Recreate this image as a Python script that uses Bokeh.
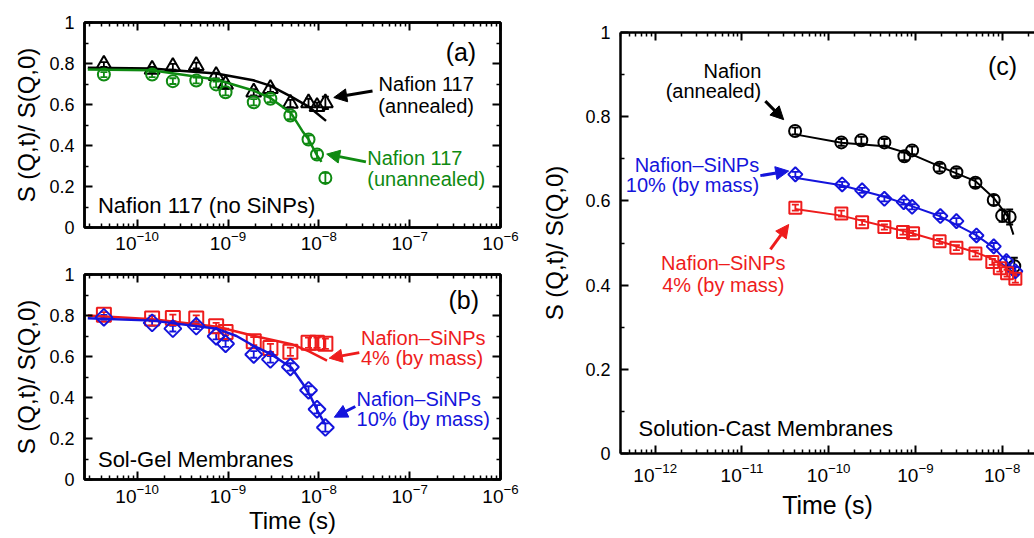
from bokeh.plotting import figure
from bokeh.layouts import row, column
from bokeh.models import (LogAxis, LinearAxis, Range1d, FixedTicker, Whisker, ColumnDataSource,
                          Label, Arrow, NormalHead, TeeHead, CustomJSTickFormatter, LogTickFormatter)
from bokeh.embed import file_html
from bokeh.resources import INLINE

FONT = "Liberation Sans"
BLACK = "#000000"
GREEN = "#0f8a12"
RED = "#ee1c1c"
BLUE = "#1414dc"

# ---------------- data: panel (a) and (b) share Fourier times ----------------
t_ab = [4.3e-11, 1.46e-10, 2.47e-10, 4.47e-10, 7.4e-10, 9.4e-10,
        1.92e-9, 2.93e-9, 4.86e-9, 7.7e-9, 9.55e-9, 1.18e-8]

a_annealed = [0.795, 0.771, 0.784, 0.790, 0.741, 0.698, 0.660, 0.677, 0.605, 0.608, 0.589, 0.608]
a_annealed_err = [0.012, 0.012, 0.014, 0.014, 0.014, 0.014, 0.015, 0.015, 0.018, 0.02, 0.02, 0.03]
a_unannealed = [0.746, 0.746, 0.714, 0.717, 0.698, 0.660, 0.611, 0.628, 0.546, 0.429, 0.356, 0.242]
a_unannealed_err = [0.012, 0.012, 0.014, 0.014, 0.014, 0.015, 0.015, 0.016, 0.018, 0.02, 0.02, 0.025]

a_fit_t_annealed = [2.86e-11, 1.44e-10, 7.4e-10, 1.9e-9, 2.9e-9, 4.9e-9, 7.7e-9, 1.2e-8]
a_fit_annealed = [0.779, 0.776, 0.751, 0.718, 0.692, 0.640, 0.590, 0.520]
a_fit_t_unannealed = [2.86e-11, 1.44e-10, 7.4e-10, 1.9e-9, 2.9e-9, 4.9e-9, 6.6e-9, 7.7e-9, 9.6e-9, 1.07e-8]
a_fit_unannealed = [0.771, 0.767, 0.722, 0.668, 0.633, 0.560, 0.470, 0.430, 0.350, 0.320]

b_4pct = [0.804, 0.785, 0.788, 0.785, 0.748, 0.720, 0.675, 0.642, 0.623, 0.667, 0.667, 0.662]
b_4pct_err = [0.012, 0.014, 0.016, 0.016, 0.016, 0.016, 0.02, 0.02, 0.02, 0.025, 0.025, 0.025]
b_10pct = [0.791, 0.764, 0.736, 0.748, 0.699, 0.662, 0.610, 0.586, 0.549, 0.435, 0.343, 0.254]
b_10pct_err = [0.012, 0.014, 0.014, 0.014, 0.015, 0.015, 0.016, 0.016, 0.018, 0.02, 0.02, 0.02]

b_fit_t_4pct = [2.86e-11, 1.48e-10, 7.6e-10, 1.95e-9, 5.0e-9, 7.8e-9, 1.23e-8]
b_fit_4pct = [0.800, 0.782, 0.745, 0.700, 0.660, 0.625, 0.580]
b_fit_t_10pct = [2.86e-11, 1.48e-10, 7.6e-10, 1.24e-9, 1.95e-9, 3.0e-9, 5.0e-9, 6.6e-9, 8.2e-9, 9.8e-9, 1.17e-8]
b_fit_10pct = [0.786, 0.775, 0.735, 0.700, 0.650, 0.610, 0.545, 0.470, 0.400, 0.330, 0.270]

# ---------------- data: panel (c) ----------------
c_t_nafion = [4.1e-11, 1.4e-10, 2.38e-10, 4.39e-10, 7.46e-10, 9.16e-10,
              1.9e-9, 2.97e-9, 4.92e-9, 8.0e-9, 1.0e-8, 1.22e-8, 1.38e-8]
c_nafion = [0.766, 0.739, 0.744, 0.739, 0.706, 0.720, 0.679, 0.668, 0.643, 0.602, 0.565, 0.562, 0.445]
c_nafion_err = [0.008, 0.008, 0.008, 0.008, 0.009, 0.009, 0.009, 0.009, 0.01, 0.012, 0.015, 0.018, 0.02]

c_t_10pct = [4.13e-11, 1.43e-10, 2.43e-10, 4.39e-10, 7.33e-10, 9.16e-10,
             1.94e-9, 2.97e-9, 5.06e-9, 8.0e-9, 1.12e-8, 1.42e-8]
c_10pct = [0.663, 0.639, 0.625, 0.605, 0.597, 0.586, 0.564, 0.552, 0.518, 0.492, 0.457, 0.433]
c_10pct_err = [0.006, 0.006, 0.006, 0.006, 0.006, 0.006, 0.007, 0.007, 0.008, 0.008, 0.01, 0.01]

c_t_4pct = [4.13e-11, 1.4e-10, 2.43e-10, 4.39e-10, 7.2e-10, 9.4e-10,
            1.9e-9, 2.97e-9, 4.92e-9, 7.7e-9, 9.4e-9, 1.14e-8, 1.42e-8]
c_4pct = [0.584, 0.570, 0.549, 0.538, 0.526, 0.523, 0.504, 0.489, 0.475, 0.455, 0.440, 0.428, 0.415]
c_4pct_err = [0.007, 0.007, 0.006, 0.006, 0.006, 0.006, 0.006, 0.006, 0.007, 0.007, 0.008, 0.008, 0.009]

c_fit_t_nafion = [4.1e-11, 1.4e-10, 4.4e-10, 9.2e-10, 1.9e-9, 4.9e-9, 8.0e-9, 1.15e-8, 1.35e-8]
c_fit_nafion = [0.758, 0.738, 0.730, 0.710, 0.682, 0.647, 0.607, 0.564, 0.520]
c_fit_t_10pct = [4.1e-11, 1.4e-10, 4.4e-10, 9.2e-10, 1.9e-9, 4.9e-9, 8.0e-9, 1.55e-8]
c_fit_10pct = [0.655, 0.637, 0.610, 0.587, 0.564, 0.520, 0.489, 0.425]
c_fit_t_4pct = [4.1e-11, 1.4e-10, 4.4e-10, 9.2e-10, 1.9e-9, 4.9e-9, 8.0e-9, 1.49e-8]
c_fit_4pct = [0.581, 0.565, 0.540, 0.523, 0.504, 0.478, 0.461, 0.421]

y_ticks = [0, 0.2, 0.4, 0.6, 0.8, 1.0]
y_minor = [0.1, 0.3, 0.5, 0.7, 0.9]
y_label = "S (Q,t)/ S(Q,0)"
x_label = "Time (s)"


def decade_ticks(e0, e1):
    major = [10.0 ** e for e in range(e0, e1 + 1)]
    minor = [m * 10.0 ** e for e in range(e0 - 1, e1 + 1) for m in range(2, 10)]
    return major, minor


def y_fmt():
    return CustomJSTickFormatter(code="return (tick < 0.01 || tick > 0.99) ? tick.toFixed(0) : tick.toFixed(1);")


def style_axis(ax, labels=True, fs="18px", standoff=6):
    ax.axis_line_width = 2.5
    ax.axis_line_color = BLACK
    ax.major_tick_in = 8
    ax.major_tick_out = 0
    ax.minor_tick_in = 4
    ax.minor_tick_out = 0
    ax.major_tick_line_width = 2
    ax.minor_tick_line_width = 1.5
    ax.major_tick_line_color = BLACK
    ax.minor_tick_line_color = BLACK
    ax.major_label_text_font = FONT
    ax.major_label_text_color = BLACK
    ax.major_label_standoff = standoff
    ax.axis_label_text_font = FONT
    ax.axis_label_text_font_style = "normal"
    ax.axis_label_text_color = BLACK
    if labels:
        ax.major_label_text_font_size = fs
    else:
        ax.major_label_text_font_size = "1px"
        ax.major_label_text_alpha = 0
        ax.major_label_standoff = 0


def make_panel(x_lo, x_hi, e0, e1, fw, fh, bl, br, bt, bb, right_axis=True, outline=True,
               xstand=4, ystand=10):
    p = figure(x_axis_type="log", x_range=Range1d(x_lo, x_hi), y_range=Range1d(0, 1),
               frame_width=fw, frame_height=fh, min_border_left=bl, min_border_right=br,
               min_border_top=bt, min_border_bottom=bb, toolbar_location=None,
               output_backend="svg", background_fill_color="white", border_fill_color="white")
    p.grid.visible = False
    if outline:
        p.outline_line_color = BLACK
        p.outline_line_width = 2.5
    else:
        p.outline_line_color = None
    major, minor = decade_ticks(e0, e1)
    xa = p.below[0]
    xa.ticker = FixedTicker(ticks=major, minor_ticks=minor)
    xa.formatter = LogTickFormatter()
    style_axis(xa, True, "19px", xstand)
    ya = p.left[0]
    ya.ticker = FixedTicker(ticks=y_ticks, minor_ticks=y_minor)
    ya.formatter = y_fmt()
    style_axis(ya, True, "18px", ystand)
    top = LogAxis(ticker=FixedTicker(ticks=major, minor_ticks=minor), formatter=LogTickFormatter())
    style_axis(top, False)
    p.add_layout(top, "above")
    if right_axis:
        ra = LinearAxis(ticker=FixedTicker(ticks=y_ticks, minor_ticks=y_minor), formatter=y_fmt())
        style_axis(ra, False)
        p.add_layout(ra, "right")
    return p, xa, ya


def series(p, t, y, err, color, marker, size, fit_t, fit_y, lw=2.5, angle=0.0):
    p.line(fit_t, fit_y, line_color=color, line_width=lw)
    lo = [v - e for v, e in zip(y, err)]
    hi = [v + e for v, e in zip(y, err)]
    src = ColumnDataSource(dict(t=t, y=y, lo=lo, hi=hi))
    p.add_layout(Whisker(source=src, base="t", lower="lo", upper="hi", dimension="height",
                         line_color=color, line_width=1.8,
                         upper_head=TeeHead(size=7, line_color=color, line_width=1.8),
                         lower_head=TeeHead(size=7, line_color=color, line_width=1.8)))
    p.scatter("t", "y", source=src, marker=marker, size=size, fill_color=None,
              line_color=color, line_width=2, angle=angle, angle_units="deg")


def label(p, x, y, text, color=BLACK, size="20px", align="left"):
    p.add_layout(Label(x=x, y=y, text=text, text_color=color, text_font=FONT,
                       text_font_size=size, text_align=align, text_baseline="middle"))


def arrow(p, x0, y0, x1, y1, color):
    p.add_layout(Arrow(end=NormalHead(size=13, fill_color=color, line_color=color, line_width=1),
                       x_start=x0, y_start=y0, x_end=x1, y_end=y1,
                       line_color=color, line_width=3))


XLO_AB, XHI_AB = 10 ** -10.58, 1e-6
XLO_C, XHI_C = 10 ** -12.40, 10 ** -7.627

# ---------------- panel (a) ----------------
pa, pa_x, pa_y = make_panel(XLO_AB, XHI_AB, -10, -6, 416, 205, 84, 20, 22, 22, xstand=3)
pa_y.axis_label = y_label
pa_y.axis_label_text_font_size = "24px"
pa_y.axis_label_standoff = 6
series(pa, t_ab, a_annealed, a_annealed_err, BLACK, "triangle", 15, a_fit_t_annealed, a_fit_annealed)
series(pa, t_ab, a_unannealed, a_unannealed_err, GREEN, "circle", 12, a_fit_t_unannealed, a_fit_unannealed)
label(pa, 5.4e-7, 0.855, "(a)", size="25px", align="right")
label(pa, 1.52e-7, 0.699, "Nafion 117", align="center")
label(pa, 1.52e-7, 0.593, "(annealed)", align="center")
arrow(pa, 3.9e-8, 0.666, 1.46e-8, 0.634, BLACK)
label(pa, 3.41e-8, 0.337, "Nafion 117", color=GREEN)
label(pa, 3.41e-8, 0.236, "(unannealed)", color=GREEN)
arrow(pa, 3.3e-8, 0.32, 1.22e-8, 0.358, GREEN)
label(pa, 3.7e-11, 0.105, "Nafion 117 (no SiNPs)", size="22px")

# ---------------- panel (b) ----------------
pb, pb_x, pb_y = make_panel(XLO_AB, XHI_AB, -10, -6, 416, 205, 84, 20, 22, 60, xstand=4)
pb_y.axis_label = y_label
pb_y.axis_label_text_font_size = "24px"
pb_y.axis_label_standoff = 6
pb_x.axis_label = x_label
pb_x.axis_label_text_font_size = "24px"
pb_x.axis_label_standoff = 1
series(pb, t_ab, b_4pct, b_4pct_err, RED, "square", 14, b_fit_t_4pct, b_fit_4pct)
series(pb, t_ab, b_10pct, b_10pct_err, BLUE, "square", 12, b_fit_t_10pct, b_fit_10pct, angle=45.0)
label(pb, 5.8e-7, 0.874, "(b)", size="25px", align="right")
label(pb, 2.91e-8, 0.692, "Nafion\u2013SiNPs", color=RED)
label(pb, 2.91e-8, 0.595, "4% (by mass)", color=RED)
arrow(pb, 2.79e-8, 0.619, 1.30e-8, 0.592, RED)
label(pb, 2.6e-8, 0.393, "Nafion\u2013SiNPs", color=BLUE)
label(pb, 2.6e-8, 0.296, "10% (by mass)", color=BLUE)
arrow(pb, 2.52e-8, 0.356, 1.48e-8, 0.304, BLUE)
label(pb, 3.7e-11, 0.097, "Sol-Gel Membranes", size="22px")

# ---------------- panel (c) ----------------
pc, pc_x, pc_y = make_panel(XLO_C, XHI_C, -12, -8, 414, 421, 100, 0, 32, 84,
                            right_axis=False, outline=False, xstand=9, ystand=10)
pc_y.axis_label = y_label
pc_y.axis_label_text_font_size = "24px"
pc_y.axis_label_standoff = 14
pc_x.axis_label = x_label
pc_x.axis_label_text_font_size = "25px"
pc_x.axis_label_standoff = 6
series(pc, c_t_nafion, c_nafion, c_nafion_err, BLACK, "circle", 12, c_fit_t_nafion, c_fit_nafion, lw=2)
series(pc, c_t_10pct, c_10pct, c_10pct_err, BLUE, "square", 10, c_fit_t_10pct, c_fit_10pct, lw=2, angle=45.0)
series(pc, c_t_4pct, c_4pct, c_4pct_err, RED, "square", 12, c_fit_t_4pct, c_fit_4pct, lw=2)
label(pc, 1.49e-8, 0.92, "(c)", size="25px", align="right")
label(pc, 1.67e-11, 0.908, "Nafion", align="right")
label(pc, 1.67e-11, 0.861, "(annealed)", align="right")
arrow(pc, 1.86e-11, 0.837, 3.03e-11, 0.793, BLACK)
label(pc, 1.58e-11, 0.686, "Nafion\u2013SiNPs", color=BLUE, align="right")
label(pc, 1.58e-11, 0.637, "10% (by mass)", color=BLUE, align="right")
arrow(pc, 1.63e-11, 0.660, 3.46e-11, 0.671, BLUE)
label(pc, 6.1e-12, 0.453, "Nafion\u2013SiNPs", color=RED, align="center")
label(pc, 6.1e-12, 0.401, "4% (by mass)", color=RED, align="center")
arrow(pc, 2.13e-11, 0.485, 3.46e-11, 0.544, RED)
label(pc, 6.44e-13, 0.059, "Solution-Cast Membranes", size="22px")

layout = row(column(pa, pb), pc)
open("out.html", "w").write(file_html(layout, INLINE))
